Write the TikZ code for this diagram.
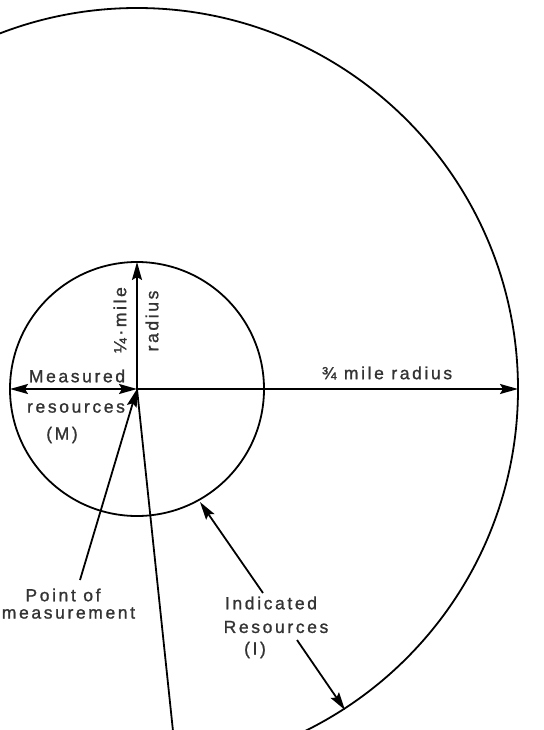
\documentclass[tikz,border=0pt]{standalone}
\usepackage{fontspec}
\setmainfont{Liberation Sans}[LetterSpace=15,FakeBold=1.2]
\usetikzlibrary{arrows.meta}
\begin{document}
\begin{tikzpicture}[x=1pt,y=-1pt,line width=1.8pt,
  >={Stealth[length=18pt,width=10pt,inset=3pt]},
  lbl/.style={font=\fontsize{17.5}{20}\selectfont,inner sep=0pt,text=black!80}]
\useasboundingbox (0,0) rectangle (543,730);
\coordinate (c) at (137,389);
\coordinate (sL) at (10,389);
\coordinate (sT) at (137,262);
\coordinate (bR) at (518,389);
\coordinate (sI) at (200,502);
\coordinate (bI) at (345,710);
\coordinate (bB) at (177,769);
\coordinate (pm) at (80,580);
\coordinate (ia) at (263,593);
\coordinate (ib) at (297,640);
\begin{scope}
\clip (0,0) rectangle (543,730);
\draw (c) circle (127);
\draw (c) circle (381);
\draw (c) -- (bB);
\end{scope}
\draw[<->] (sL) -- (c);
\draw[->] (c) -- (bR);
\draw[->] (c) -- (sT);
\draw[->] (pm) -- (c);
\draw[->] (ia) -- (sI);
\draw[->] (ib) -- (bI);
\node[lbl] (meas) at (77,376) {Measured};
\node[lbl] (res) at (76,408) {resources};
\node[lbl] (m) at (62,435) {(M)};
\node[lbl,rotate=90] (qm) at (120,320) {¼·mile};
\node[lbl,rotate=90] (rad) at (152,321) {radius};
\node[lbl] (tq) at (387,373) {¾ mile radius};
\node[lbl] (pt) at (63,595) {Point of};
\node[lbl,anchor=east] (mmt) at (136,613) {measurement};
\node[lbl] (ind) at (271,603) {Indicated};
\node[lbl] (ires) at (276,627) {Resources};
\node[lbl] (i) at (255,650) {(I)};
\end{tikzpicture}
\end{document}
